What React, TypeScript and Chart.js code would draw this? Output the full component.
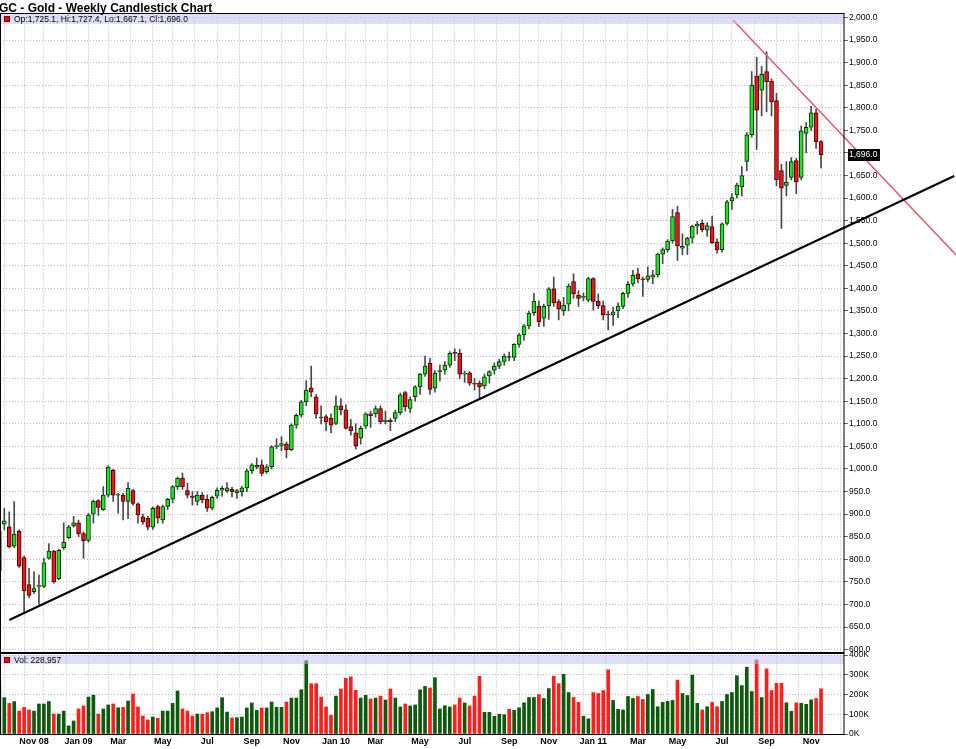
import React, { useEffect, useRef } from "react";
import { Chart, registerables } from "chart.js";

Chart.register(...registerables);

// Monday of the first (partially visible) weekly candle
const FIRST_WEEK = "2008-09-15";

const OPEN = [
  775, 878, 872, 829, 862, 804, 744, 728, 740, 740, 802, 818, 757, 826, 848, 874, 881, 857, 842, 900,
  930, 910, 942, 997, 942, 942, 928, 952, 923, 894, 891, 871, 917, 887, 917, 933, 961, 980, 952, 940,
  928, 942, 933, 913, 940, 953, 952, 955, 947, 950, 958, 996, 1004, 1009, 994, 1005, 1049, 1052, 1055, 1043,
  1097, 1119, 1149, 1180, 1160, 1114, 1116, 1112, 1101, 1140, 1131, 1094, 1080, 1068, 1095, 1122, 1122, 1134, 1105, 1108,
  1112, 1125, 1169, 1134, 1160, 1182, 1210, 1234, 1179, 1215, 1219, 1230, 1258, 1256, 1210, 1213, 1190, 1190, 1184, 1206,
  1219, 1228, 1238, 1249, 1247, 1276, 1297, 1317, 1346, 1360, 1334, 1361, 1399, 1371, 1350, 1365, 1415, 1385, 1380, 1374,
  1422, 1372, 1362, 1343, 1341, 1350, 1360, 1389, 1410, 1432, 1421, 1420, 1425, 1430, 1476, 1486, 1505, 1568, 1489, 1496,
  1511, 1538, 1544, 1529, 1537, 1503, 1486, 1544, 1594, 1607, 1625, 1681, 1740, 1870, 1839, 1880, 1859, 1816, 1661, 1628,
  1646, 1683, 1646, 1743, 1757, 1789, 1725.1,
];

const HIGH = [
  880, 913, 905, 928, 865, 807, 780, 772, 765, 802, 835, 820, 822, 881, 875, 895, 887, 861, 902, 931,
  932, 961, 1007, 1000, 946, 946, 970, 955, 925, 900, 895, 916, 920, 920, 935, 963, 982, 991, 968, 950,
  950, 948, 943, 940, 958, 962, 970, 960, 955, 962, 1000, 1012, 1024, 1020, 1010, 1052, 1067, 1072, 1060, 1100,
  1122, 1152, 1196, 1228, 1165, 1140, 1120, 1122, 1162, 1156, 1142, 1110, 1100, 1095, 1125, 1128, 1140, 1140, 1128, 1112,
  1130, 1168, 1172, 1160, 1185, 1212, 1250, 1245, 1218, 1230, 1238, 1260, 1266, 1265, 1217, 1216, 1200, 1195, 1210, 1218,
  1235, 1243, 1255, 1259, 1278, 1300, 1320, 1350, 1389, 1372, 1365, 1402, 1425, 1375, 1380, 1410, 1432, 1395, 1390, 1425,
  1424, 1388, 1372, 1350, 1358, 1368, 1392, 1415, 1440, 1445, 1425, 1448, 1440, 1478, 1490, 1508, 1575, 1582, 1521, 1513,
  1540, 1548, 1552, 1546, 1560, 1510, 1545, 1595, 1610, 1633, 1670, 1745, 1880, 1912, 1892, 1924, 1864, 1832, 1675, 1681,
  1690, 1688, 1760, 1767, 1803, 1797, 1727.4,
];

const LOW = [
  755, 865, 825, 826, 782, 680, 715, 724, 700, 737, 800, 747, 755, 822, 845, 871, 850, 802, 838, 880,
  897, 908, 938, 928, 902, 887, 890, 920, 880, 878, 865, 866, 880, 880, 910, 925, 955, 955, 936, 920,
  920, 925, 906, 910, 935, 940, 948, 938, 935, 940, 950, 990, 1000, 985, 990, 1000, 1045, 1040, 1025, 1040,
  1090, 1115, 1140, 1160, 1112, 1100, 1085, 1080, 1098, 1120, 1088, 1075, 1044, 1055, 1090, 1092, 1115, 1100, 1100, 1085,
  1105, 1120, 1128, 1125, 1150, 1165, 1205, 1165, 1170, 1195, 1210, 1225, 1240, 1200, 1192, 1185, 1175, 1157, 1178, 1190,
  1210, 1222, 1230, 1240, 1240, 1270, 1285, 1310, 1340, 1315, 1316, 1331, 1360, 1330, 1340, 1350, 1378, 1360, 1372, 1370,
  1352, 1355, 1330, 1308, 1318, 1335, 1355, 1380, 1405, 1412, 1382, 1415, 1410, 1425, 1455, 1480, 1500, 1462, 1474, 1475,
  1500, 1520, 1525, 1515, 1499, 1478, 1480, 1540, 1575, 1600, 1605, 1660, 1735, 1708, 1782, 1791, 1782, 1627, 1533, 1605,
  1640, 1610, 1640, 1700, 1750, 1710, 1667.1,
];

const CLOSE = [
  862, 885, 828, 855, 785, 730, 720, 735, 742, 792, 818, 750, 820, 838, 872, 881, 857, 841, 898, 929,
  915, 942, 1004, 942, 943, 928, 957, 924, 898, 883, 871, 913, 891, 917, 933, 961, 980, 961, 942, 937,
  942, 932, 913, 937, 953, 957, 958, 950, 952, 958, 996, 1009, 1008, 990, 1005, 1049, 1052, 1056, 1043, 1097,
  1119, 1149, 1175, 1170, 1122, 1113, 1105, 1097, 1140, 1131, 1090, 1085, 1051, 1090, 1122, 1118, 1134, 1105, 1108, 1105,
  1125, 1164, 1138, 1154, 1182, 1210, 1228, 1176, 1212, 1218, 1230, 1256, 1256, 1210, 1212, 1190, 1188, 1182, 1204, 1216,
  1228, 1238, 1250, 1247, 1276, 1297, 1317, 1345, 1372, 1326, 1360, 1399, 1368, 1354, 1363, 1405, 1388, 1378, 1381, 1422,
  1371, 1362, 1341, 1341, 1348, 1361, 1389, 1409, 1429, 1421, 1419, 1428, 1430, 1476, 1486, 1505, 1559, 1494, 1493, 1511,
  1538, 1542, 1530, 1539, 1501, 1485, 1543, 1592, 1601, 1629, 1650, 1740, 1850, 1795, 1874, 1858, 1813, 1640, 1622, 1635,
  1681, 1636, 1749, 1757, 1789, 1725, 1696.0,
];

const VOLUME = [
  248000, 184000, 155000, 164000, 116000, 135000, 122000, 116000, 152000, 152000, 164000, 101000, 101000, 116000, 41000, 66000, 127000, 142000, 187000, 197000,
  101000, 127000, 147000, 152000, 133000, 135000, 167000, 203000, 137000, 91000, 71000, 86000, 79000, 116000, 116000, 155000, 218000, 127000, 116000, 91000,
  101000, 100000, 108000, 113000, 132000, 184000, 111000, 81000, 83000, 86000, 132000, 157000, 120000, 132000, 132000, 162000, 135000, 135000, 162000, 182000,
  182000, 224000, 371000, 255000, 255000, 187000, 137000, 95000, 192000, 228000, 282000, 289000, 221000, 182000, 196000, 177000, 182000, 192000, 172000, 228000,
  182000, 137000, 152000, 142000, 147000, 224000, 241000, 233000, 285000, 127000, 143000, 137000, 147000, 182000, 157000, 142000, 192000, 292000, 110000, 110000,
  90000, 100000, 98000, 125000, 120000, 133000, 158000, 185000, 185000, 200000, 180000, 230000, 293000, 255000, 302000, 210000, 185000, 160000, 90000, 77000,
  210000, 205000, 220000, 325000, 170000, 125000, 122000, 190000, 180000, 190000, 175000, 200000, 225000, 138000, 160000, 165000, 170000, 273000, 205000, 195000,
  298000, 155000, 122000, 138000, 160000, 138000, 165000, 200000, 210000, 295000, 245000, 338000, 215000, 375000, 185000, 330000, 220000, 257000, 257000, 158000,
  115000, 158000, 155000, 150000, 173000, 180000, 228957,
];

const TICK_LABELS = [
  "Nov 08", "Jan 09", "Mar", "May", "Jul", "Sep", "Nov", "Jan 10", "Mar", "May",
  "Jul", "Sep", "Nov", "Jan 11", "Mar", "May", "Jul", "Sep", "Nov",
];

const PRICE_TICKS = [
  600, 650, 700, 750, 800, 850, 900, 950, 1000, 1050, 1100, 1150, 1200, 1250, 1300,
  1350, 1400, 1450, 1500, 1550, 1600, 1650, 1700, 1750, 1800, 1850, 1900, 1950, 2000,
];
const VOLUME_TICKS = [0, 100000, 200000, 300000, 400000];

// trend lines: [week index, price]
const SUPPORT_LINE = [
  { x: 2.0, y: 665.5 },
  { x: 192.9, y: 1649 },
];
const RESISTANCE_LINE = [
  { x: 148.2, y: 1994.5 },
  { x: 193.3, y: 1474 },
];

const FONT = "'Liberation Sans', Arial, Helvetica, sans-serif";
const X_MIN = 0.13;
const X_MAX = 170.64;

const GREEN = "#1ee61e";
const RED = "#f01414";
const VOL_GREEN = "#0d5a0d";
const VOL_RED = "#ff1e1e";
const GRID = "#b9b9d2";

function weekDate(i: number) {
  const d = new Date(FIRST_WEEK + "T00:00:00Z");
  d.setUTCDate(d.getUTCDate() + 7 * i);
  return d;
}

function buildMonthTicks() {
  const out: { value: number; label: string }[] = [];
  let li = 0;
  for (let i = 0; i <= Math.floor(X_MAX); i++) {
    const d = weekDate(i);
    if (d.getUTCDate() <= 7 && i >= X_MIN) {
      let label = "";
      if (d.getUTCMonth() % 2 === 0 && li < TICK_LABELS.length) label = TICK_LABELS[li++];
      out.push({ value: i, label });
    }
  }
  return out;
}

const fmt1 = (v: number) =>
  v.toLocaleString("en-US", { minimumFractionDigits: 1, maximumFractionDigits: 1 });

export default function App() {
  const ref = useRef<HTMLCanvasElement | null>(null);

  useEffect(() => {
    document.body.style.margin = "0";
    const canvas = ref.current;
    if (!canvas) return;
    const n = CLOSE.length;
    const idx = CLOSE.map((_, i) => i);
    const up = idx.map((i) => CLOSE[i] >= OPEN[i]);
    const monthTicks = buildMonthTicks();
    const last = n - 1;

    const decor = {
      id: "decor",
      beforeDraw(chart: any) {
        const c = chart.ctx;
        c.save();
        c.fillStyle = "#ffffff";
        c.fillRect(0, 0, chart.width, chart.height);
        c.restore();
      },
      afterDraw(chart: any) {
        const c = chart.ctx;
        const right = chart.chartArea.right;
        c.save();
        // header bands
        c.fillStyle = "rgba(190,190,240,0.5)";
        c.fillRect(1, 14, right - 1, 10);
        c.fillRect(1, 655, right - 1, 9);
        // panel borders
        c.strokeStyle = "#000";
        c.lineWidth = 1;
        c.strokeRect(0.5, 13.5, right - 0.5, 721);
        c.fillStyle = "#000";
        c.fillRect(0, 652, right, 2);
        // title
        c.fillStyle = "#000";
        c.font = `bold 12px ${FONT}`;
        c.textBaseline = "alphabetic";
        c.textAlign = "left";
        c.fillText("GC - Gold - Weekly Candlestick Chart", -1, 12);
        // legend squares
        c.fillStyle = "#ff0000";
        c.fillRect(5, 17, 4, 4);
        c.fillRect(5, 658, 4, 4);
        c.strokeStyle = "#700";
        c.strokeRect(4.5, 16.5, 5, 5);
        c.strokeRect(4.5, 657.5, 5, 5);
        // header texts
        c.fillStyle = "#000";
        c.font = `8.5px ${FONT}`;
        c.fillText(
          `Op:${fmt1(OPEN[last])}, Hi:${fmt1(HIGH[last])}, Lo:${fmt1(LOW[last])}, Cl:${fmt1(CLOSE[last])}`,
          14,
          22
        );
        c.fillText(`Vol: ${Math.round(VOLUME[last]).toLocaleString("en-US")}`, 14, 663);
        // last price marker
        const py = chart.scales.y.getPixelForValue(CLOSE[last]);
        c.fillStyle = "#000";
        c.fillRect(848, Math.round(py) - 6, 32, 12);
        c.fillStyle = "#fff";
        c.textBaseline = "middle";
        c.fillText(fmt1(CLOSE[last]), 849, py);
        c.restore();
      },
    };

    const chart = new Chart(canvas, {
      type: "bar",
      data: {
        datasets: [
          {
            type: "line",
            data: SUPPORT_LINE,
            xAxisID: "x",
            yAxisID: "y",
            borderColor: "#000",
            borderWidth: 2,
            pointRadius: 0,
            clip: false,
            order: 0,
          } as any,
          {
            type: "line",
            data: RESISTANCE_LINE,
            xAxisID: "x",
            yAxisID: "y",
            borderColor: "#e2566f",
            borderWidth: 1.5,
            pointRadius: 0,
            clip: false,
            order: 0,
          } as any,
          {
            type: "bar",
            data: idx.map((i) => ({ x: i, y: [OPEN[i], CLOSE[i]] })),
            xAxisID: "x",
            yAxisID: "y",
            grouped: false,
            barThickness: 4,
            minBarLength: 1,
            borderWidth: 1,
            borderSkipped: false,
            backgroundColor: up.map((u) => (u ? GREEN : RED)),
            borderColor: up.map((u) => (u ? "#0c2a0c" : "#3a0505")),
            order: 2,
          } as any,
          {
            type: "bar",
            data: idx.map((i) => ({ x: i, y: [LOW[i], HIGH[i]] })),
            xAxisID: "x",
            yAxisID: "y",
            grouped: false,
            barThickness: 1,
            backgroundColor: "#4a4a4a",
            borderWidth: 0,
            order: 3,
          } as any,
          {
            type: "bar",
            data: idx.map((i) => ({ x: i, y: VOLUME[i] })),
            xAxisID: "x",
            yAxisID: "yv",
            grouped: false,
            barThickness: 3,
            backgroundColor: up.map((u) => (u ? VOL_GREEN : VOL_RED)),
            borderWidth: 0,
            order: 2,
          } as any,
        ],
      },
      options: {
        animation: false,
        responsive: false,
        devicePixelRatio: 1,
        events: [],
        layout: { padding: { top: 17.5, left: 0, right: 0, bottom: 0 }, autoPadding: false },
        plugins: { legend: { display: false }, tooltip: { enabled: false } },
        scales: {
          x: {
            type: "linear",
            min: X_MIN,
            max: X_MAX,
            offset: false,
            afterBuildTicks: (s: any) => {
              s.ticks = monthTicks.map((t) => ({ value: t.value }));
            },
            afterFit: (s: any) => {
              s.height = 15;
            },
            grid: { color: GRID, drawTicks: false, lineWidth: 1 },
            border: { display: false, dash: [1, 2] },
            ticks: {
              autoSkip: false,
              maxRotation: 0,
              minRotation: 0,
              padding: 2,
              color: "#000",
              font: { family: FONT, size: 9, weight: "bold" },
              callback: (v: any) => {
                const t = monthTicks.find((m) => m.value === v);
                return t ? t.label : "";
              },
            },
          },
          y: {
            type: "linear",
            position: "right",
            stack: "panels",
            stackWeight: 637.5,
            min: 588,
            max: 2000,
            afterBuildTicks: (s: any) => {
              s.ticks = PRICE_TICKS.map((v) => ({ value: v }));
            },
            afterFit: (s: any) => {
              s.width = 112;
            },
            grid: { color: GRID, tickColor: "#666", tickLength: 4, lineWidth: 1 },
            border: { display: false, dash: [1, 2] },
            ticks: {
              autoSkip: false,
              padding: 1,
              color: "#000",
              font: { family: FONT, size: 8.5 },
              callback: (v: any) => fmt1(Number(v)),
            },
          },
          yv: {
            type: "linear",
            position: "right",
            stack: "panels",
            stackWeight: 79,
            min: 0,
            max: 400000,
            afterBuildTicks: (s: any) => {
              s.ticks = VOLUME_TICKS.map((v) => ({ value: v }));
            },
            afterFit: (s: any) => {
              s.width = 112;
            },
            grid: { color: GRID, tickColor: "#666", tickLength: 4, lineWidth: 1 },
            border: { display: false, dash: [1, 2] },
            ticks: {
              autoSkip: false,
              padding: 1,
              color: "#000",
              font: { family: FONT, size: 8.5 },
              callback: (v: any) => `${Math.round(Number(v) / 1000)}K`,
            },
          },
        },
      } as any,
      plugins: [decor],
    });

    return () => chart.destroy();
  }, []);

  return (
    <div style={{ width: 956, height: 749 }}>
      <canvas ref={ref} width={956} height={749} style={{ display: "block" }} />
    </div>
  );
}
